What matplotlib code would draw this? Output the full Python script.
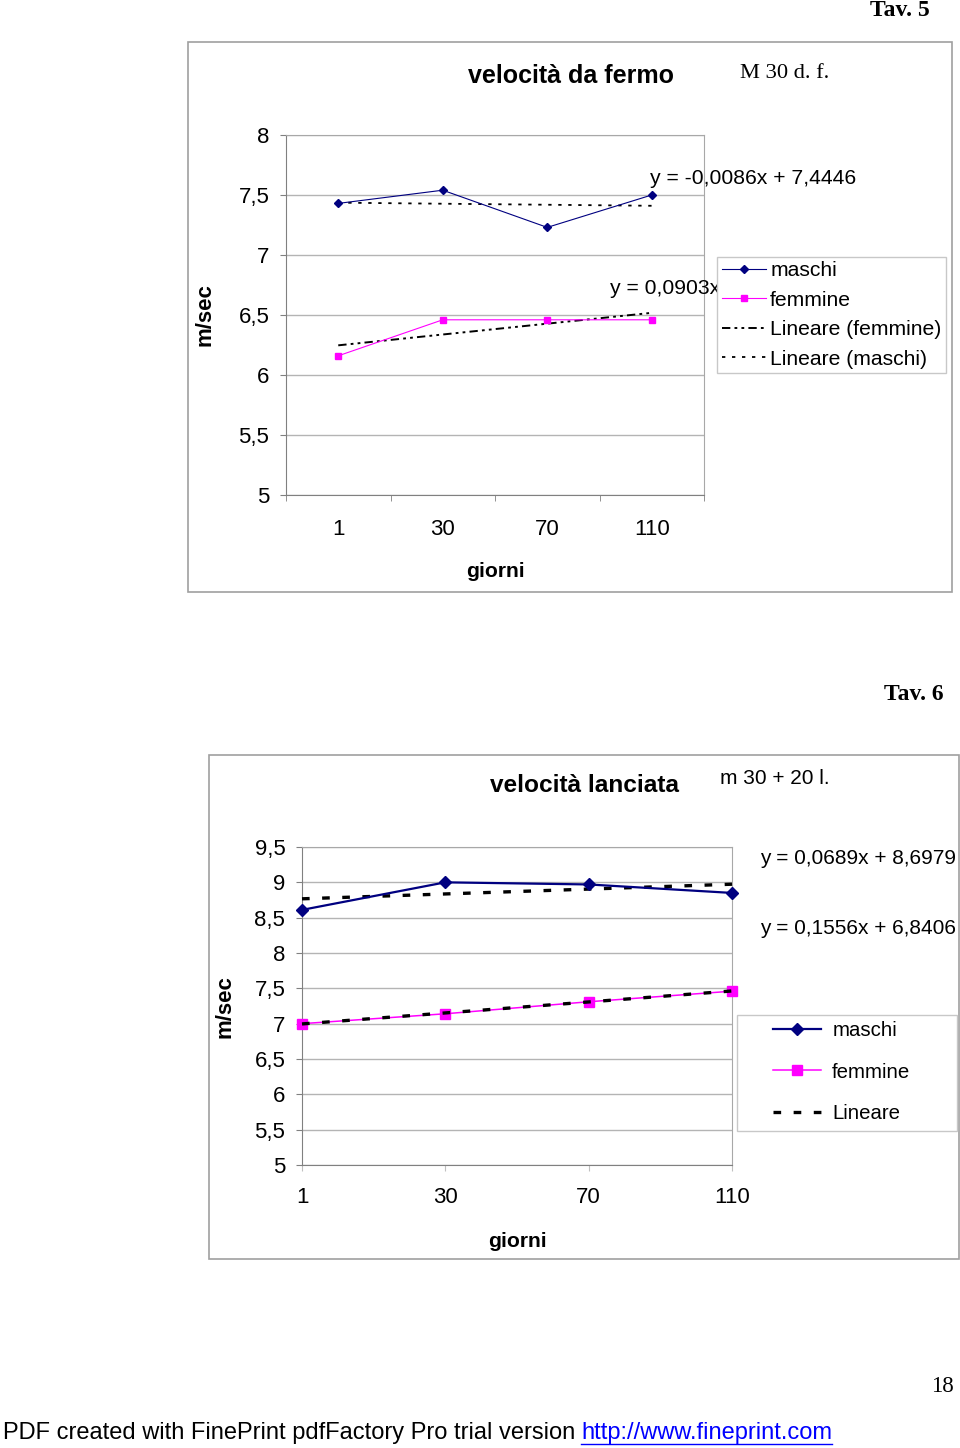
import matplotlib
matplotlib.use("Agg")
import numpy as np
import matplotlib.pyplot as plt
from matplotlib.patches import Rectangle
from matplotlib.lines import Line2D

plt.rcParams["font.family"] = ["Liberation Sans", "DejaVu Sans"]
plt.rcParams["lines.scale_dashes"] = False

giorni = ["1", "30", "70", "110"]

# Tav. 5 - velocità da fermo (M 30 d. f.)
fermo_maschi = [7.43, 7.54, 7.23, 7.50]
fermo_femmine = [6.16, 6.46, 6.46, 6.46]
fermo_trend_maschi = (-0.0086, 7.4446)
fermo_trend_femmine = (0.0903, 6.1569)

# Tav. 6 - velocità lanciata (m 30 + 20 l.)
lanciata_maschi = [8.61, 9.00, 8.97, 8.85]
lanciata_femmine = [7.00, 7.14, 7.31, 7.46]
lanciata_trend_maschi = (0.0689, 8.6979)
lanciata_trend_femmine = (0.1556, 6.8406)

W, H = 960, 1448
NAVY = "#000080"
MAGENTA = "#FF00FF"
GRID = "#b4b4b4"
AXIS = "#808080"
FS = 15.2      # legend / equations / axis labels
TICK = 16      # tick labels
TITLE = 18


def fx(x):
    return x / W


def fy(y):
    return 1 - y / H


def comma(v):
    return f"{v:g}".replace(".", ",")


def trend(coef):
    a, b = coef
    return [a * (i + 1) + b for i in range(len(giorni))]


def eq_label(coef):
    a, b = coef
    return f"y = {a:.4f}x + {b:.4f}".replace(".", ",")


def style_axes(ax, ymin, ymax):
    ax.set_ylim(ymin, ymax)
    yt = np.arange(ymin, ymax + 0.01, 0.5)
    ax.set_yticks(yt, [comma(v) for v in yt])
    ax.yaxis.grid(True, color=GRID, lw=1)
    ax.set_axisbelow(True)
    for s in ["left", "bottom"]:
        ax.spines[s].set_color(AXIS)
    for s in ["top", "right"]:
        ax.spines[s].set_color("#a8a8a8")
    ax.tick_params(axis="y", length=4, pad=8, color=AXIS, labelsize=TICK)
    ax.tick_params(axis="x", labelsize=TICK)


def frame(x0, y0, x1, y1):
    fig.add_artist(Rectangle((fx(x0), fy(y1)), (x1 - x0) / W, (y1 - y0) / H,
                             transform=fig.transFigure, fill=False,
                             edgecolor="#a0a0a0", lw=1.2))


fig = plt.figure(figsize=(W / 100, H / 100), dpi=100)
serif = ["Liberation Serif", "DejaVu Serif"]

# ---------- Tav. 5 ----------
fig.text(fx(930), fy(11), "Tav. 5", ha="right", va="center", family=serif,
         fontweight="bold", fontsize=17)
frame(188, 42, 952, 592)

ax1 = fig.add_axes([fx(286), fy(495), (704 - 286) / W, (495 - 135) / H])
x = np.arange(len(giorni))
l_m, = ax1.plot(x, fermo_maschi, color=NAVY, lw=0.8, marker="D", ms=4.5,
                zorder=4, clip_on=False)
l_f, = ax1.plot(x, fermo_femmine, color=MAGENTA, lw=0.8, marker="s", ms=5,
                zorder=4, clip_on=False)
t_f, = ax1.plot(x, trend(fermo_trend_femmine), color="black", lw=1.4,
                dashes=(6, 3, 2, 3, 2, 3), zorder=3, clip_on=False)
t_m, = ax1.plot(x, trend(fermo_trend_maschi), color="black", lw=1.3,
                dashes=(2.4, 4.8), zorder=3, clip_on=False)
ax1.set_xlim(-0.5, 3.5)
style_axes(ax1, 5, 8)
ax1.set_xticks(x, giorni)
ax1.set_xticks(np.arange(-0.5, 3.6, 1), minor=True)
ax1.tick_params(axis="x", which="major", length=0, pad=17)
ax1.tick_params(axis="x", which="minor", length=4, color=AXIS)

ax1.text(fx(650), fy(179), eq_label(fermo_trend_maschi), transform=fig.transFigure,
         ha="left", va="center", fontsize=FS, zorder=3)
# in the original the legend box hides the rest of this equation
ax1.text(fx(610), fy(288), eq_label(fermo_trend_femmine).split(" +")[0],
         transform=fig.transFigure, ha="left", va="center", fontsize=FS, zorder=3)

leg1 = ax1.legend([l_m, l_f, t_f, t_m],
                  ["maschi", "femmine", "Lineare (femmine)", "Lineare (maschi)"],
                  loc="center", bbox_to_anchor=(fx(831.5), fy(315)),
                  bbox_transform=fig.transFigure, fontsize=FS, fancybox=False,
                  edgecolor="#c8c8c8", framealpha=1, handlelength=2.1,
                  handletextpad=0.2, labelspacing=0.5, borderpad=0.2,
                  borderaxespad=0)
leg1.get_frame().set_linewidth(1)
leg1.set_zorder(6)

ax1.set_xlabel("giorni", fontweight="bold", fontsize=FS)
ax1.set_ylabel("m/sec", fontweight="bold", fontsize=16)
ax1.yaxis.set_label_coords(fx(216), fy(315), transform=fig.transFigure)
ax1.xaxis.set_label_coords(fx(495), fy(562), transform=fig.transFigure)
fig.text(fx(571), fy(76), "velocità da fermo", ha="center", va="center",
         fontweight="bold", fontsize=TITLE)
fig.text(fx(740), fy(73), "M 30 d. f.", ha="left", va="center", family=serif,
         fontsize=16.2)

# ---------- Tav. 6 ----------
fig.text(fx(944), fy(694), "Tav. 6", ha="right", va="center", family=serif,
         fontweight="bold", fontsize=17)
frame(209, 755, 959, 1259)

ax2 = fig.add_axes([fx(302), fy(1165), (732 - 302) / W, (1165 - 847) / H])
m2, = ax2.plot(x, lanciata_maschi, color=NAVY, lw=1.6, marker="D", ms=6.5,
               zorder=4, clip_on=False)
f2, = ax2.plot(x, lanciata_femmine, color=MAGENTA, lw=1.1, marker="s", ms=6.5,
               zorder=4, clip_on=False)
ax2.plot(x, trend(lanciata_trend_maschi), color="black", lw=2.4,
         dashes=(5.5, 9), zorder=3, clip_on=False)
tl2, = ax2.plot(x, trend(lanciata_trend_femmine), color="black", lw=2.4,
                dashes=(5.5, 9), zorder=5, clip_on=False)
ax2.set_xlim(0, 3)
style_axes(ax2, 5, 9.5)
ax2.set_xticks(x, giorni)
ax2.tick_params(axis="x", length=4, pad=12, color="#c0c0c0")

ax2.text(fx(760), fy(858), eq_label(lanciata_trend_maschi), transform=fig.transFigure,
         ha="left", va="center", fontsize=15)
ax2.text(fx(760), fy(929), eq_label(lanciata_trend_femmine), transform=fig.transFigure,
         ha="left", va="center", fontsize=15)

frame_leg2 = Rectangle((fx(737), fy(1131)), (957 - 737) / W, (1131 - 1015) / H,
                       transform=fig.transFigure, fill=True, facecolor="white",
                       edgecolor="#c8c8c8", lw=1)
fig.add_artist(frame_leg2)
lin_handle = Line2D([], [], color="black", lw=2.4, dashes=(5.5, 9))
leg2 = fig.legend([m2, f2, lin_handle], ["maschi", "femmine", "Lineare"],
                  loc="center left", bbox_to_anchor=(fx(773), fy(1072)),
                  fontsize=14.7, frameon=False, handlelength=2.35,
                  handletextpad=0.55, labelspacing=1.1, borderpad=0,
                  borderaxespad=0)

ax2.set_xlabel("giorni", fontweight="bold", fontsize=FS)
ax2.set_ylabel("m/sec", fontweight="bold", fontsize=16)
ax2.yaxis.set_label_coords(fx(236), fy(1007), transform=fig.transFigure)
ax2.xaxis.set_label_coords(fx(517), fy(1232), transform=fig.transFigure)
fig.text(fx(585), fy(785), "velocità lanciata", ha="center", va="center",
         fontweight="bold", fontsize=17.6)
fig.text(fx(720), fy(778), "m 30 + 20 l.", ha="left", va="center", fontsize=15)

# ---------- page footer ----------
fig.text(fx(954), fy(1386), "18", ha="right", va="center", family=serif,
         fontsize=16.5)
fig.text(fx(3), fy(1433), "PDF created with FinePrint pdfFactory Pro trial version",
         ha="left", va="center", fontsize=17)
url = fig.text(fx(581), fy(1433), "http://www.fineprint.com", ha="left",
               va="center", fontsize=17, color="#0000ff")
fig.canvas.draw()
bb = url.get_window_extent()
fig.add_artist(Line2D([bb.x0 / W, bb.x1 / W], [fy(1444), fy(1444)],
                      transform=fig.transFigure, color="#0000ff", lw=1))

fig.savefig("out.png", dpi=100)
